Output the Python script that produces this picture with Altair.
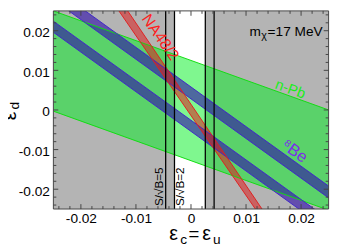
import altair as alt
import pandas as pd

# ---------------- values ----------------
X_DOMAIN = [-0.025, 0.025]
Y_DOMAIN = [-0.025, 0.025]
MAJOR = [-0.02, -0.01, 0.0, 0.01, 0.02]
MINOR = [-0.024, -0.022, -0.018, -0.016, -0.014, -0.012, -0.008, -0.006, -0.004, -0.002,
         0.002, 0.004, 0.006, 0.008, 0.012, 0.014, 0.016, 0.018, 0.022, 0.024]

# excluded (gray) x-regions, outside the S/sqrt(B)=2 lines
GRAY_X0 = [-0.025, 0.0026]
GRAY_X1 = [-0.0030, 0.025]

# vertical S/sqrt(B) lines
SB_LINES = [-0.0046, -0.0030, 0.0026, 0.0042]

# n-Pb band (edges at x = -0.025 and 0.025)
NPB_X = [-0.025, 0.025]
NPB_LO = [-0.0003, -0.0253]
NPB_HI = [0.0250, 0.0000]

# 8Be bands
BE_X = [-0.025, 0.025]
BE1_LO = [0.0196, -0.0304]
BE1_HI = [0.0224, -0.0276]
BE2_LO = [0.0278, -0.0222]
BE2_HI = [0.0308, -0.0192]

# NA48/2 band (edges at y = 0.025 and -0.025)
NA_Y = [0.025, -0.025]
NA_L = [-0.0131, 0.0117]
NA_R = [-0.0115, 0.0129]

# ---------------- styling ----------------
W, H = 282, 203
FONT = "Liberation Sans"
GRAY = "#b4b4b4"
GREEN = "#00f020"
GREEN_EDGE = "#10dd10"
BE_FILL = "#2d0aaa"
BE_EDGE = "#4028c8"
RED_FILL = "#dc1e1e"
RED_EDGE = "#e02020"
FRAME = "#444444"

xs = alt.Scale(domain=X_DOMAIN, nice=False, zero=False)
ys = alt.Scale(domain=Y_DOMAIN, nice=False, zero=False)
LABEL_EXPR = "datum.value == 0 ? '0' : (datum.value < 0 ? '-' : '') + format(abs(datum.value), '.2f')"
ax = alt.Axis(values=MAJOR, labelExpr=LABEL_EXPR, ticks=False, tickSize=0, domain=False, grid=False,
              labelFont=FONT, labelFontSize=14, labelColor="black", labelPadding=3)
ay = alt.Axis(values=MAJOR, labelExpr=LABEL_EXPR, ticks=False, tickSize=0, domain=False, grid=False,
              labelFont=FONT, labelFontSize=14, labelColor="black", labelPadding=4, labelOffset=2)

X = lambda f: alt.X(f, scale=xs, axis=ax, title=None)
Y = lambda f: alt.Y(f, scale=ys, axis=ay, title=None)

# gray excluded regions
gray = alt.Chart(pd.DataFrame({"x0": GRAY_X0, "x1": GRAY_X1})).mark_rect(color=GRAY).encode(
    x=X("x0:Q"), x2="x1:Q", y=alt.value(0), y2=alt.value(H))

# n-Pb
npb_df = pd.DataFrame({"x": NPB_X, "lo": NPB_LO, "hi": NPB_HI})
green = alt.Chart(npb_df).mark_area(color=GREEN, opacity=0.5, clip=True).encode(
    x=X("x:Q"), y=Y("lo:Q"), y2="hi:Q")

# 8Be
be_df = pd.DataFrame({
    "x": BE_X + BE_X,
    "lo": BE1_LO + BE2_LO,
    "hi": BE1_HI + BE2_HI,
    "band": ["a", "a", "b", "b"],
})
be = alt.Chart(be_df).mark_area(color=BE_FILL, opacity=0.6, clip=True).encode(
    x=X("x:Q"), y=Y("lo:Q"), y2="hi:Q", detail="band:N")

# NA48/2
na_df = pd.DataFrame({"y": NA_Y, "l": NA_L, "r": NA_R})
red = alt.Chart(na_df).mark_area(color=RED_FILL, opacity=0.55, orient="horizontal", clip=True).encode(
    y=Y("y:Q"), x=X("l:Q"), x2="r:Q")


def edges(xv, ylists, prefix):
    rows = []
    for i, yl in enumerate(ylists):
        for xx, yy in zip(xv, yl):
            rows.append({"g": f"{prefix}{i}", "x": xx, "y": yy})
    return pd.DataFrame(rows)


green_edge = alt.Chart(edges(NPB_X, [NPB_LO, NPB_HI], "n")).mark_line(
    color=GREEN_EDGE, strokeWidth=1, clip=True).encode(x=X("x:Q"), y=Y("y:Q"), detail="g:N")
be_edge = alt.Chart(edges(BE_X, [BE1_LO, BE1_HI, BE2_LO, BE2_HI], "b")).mark_line(
    color=BE_EDGE, strokeWidth=1, clip=True).encode(x=X("x:Q"), y=Y("y:Q"), detail="g:N")
na_rows = []
for i, xl in enumerate([NA_L, NA_R]):
    for xx, yy in zip(xl, NA_Y):
        na_rows.append({"g": f"r{i}", "x": xx, "y": yy})
red_edge = alt.Chart(pd.DataFrame(na_rows)).mark_line(
    color=RED_EDGE, strokeWidth=1, clip=True).encode(x=X("x:Q"), y=Y("y:Q"), detail="g:N")

vlines = alt.Chart(pd.DataFrame({"v": SB_LINES})).mark_rule(color="black", strokeWidth=1.3).encode(
    x=X("v:Q"))

# inward ticks on all four sides
maj_df = pd.DataFrame({"v": MAJOR})
min_df = pd.DataFrame({"v": MINOR})
tick_layers = []
for df, ln in [(maj_df, 5), (min_df, 3)]:
    tick_layers.append(alt.Chart(df).mark_rule(color=FRAME, strokeWidth=1).encode(
        x=X("v:Q"), y=alt.value(H), y2=alt.value(H - ln)))
    tick_layers.append(alt.Chart(df).mark_rule(color=FRAME, strokeWidth=1).encode(
        x=X("v:Q"), y=alt.value(0), y2=alt.value(ln)))
    tick_layers.append(alt.Chart(df).mark_rule(color=FRAME, strokeWidth=1).encode(
        y=Y("v:Q"), x=alt.value(0), x2=alt.value(ln)))
    tick_layers.append(alt.Chart(df).mark_rule(color=FRAME, strokeWidth=1).encode(
        y=Y("v:Q"), x=alt.value(W), x2=alt.value(W - ln)))

one = pd.DataFrame({"k": [0]})
frame = [
    alt.Chart(one).mark_rule(color=FRAME, strokeWidth=1).encode(x=alt.value(0), y=alt.value(0), y2=alt.value(H)),
    alt.Chart(one).mark_rule(color=FRAME, strokeWidth=1).encode(x=alt.value(W), y=alt.value(0), y2=alt.value(H)),
    alt.Chart(one).mark_rule(color=FRAME, strokeWidth=1).encode(y=alt.value(0), x=alt.value(0), x2=alt.value(W)),
    alt.Chart(one).mark_rule(color=FRAME, strokeWidth=1).encode(y=alt.value(H), x=alt.value(0), x2=alt.value(W)),
]


def txt(s, x, y, size, color="black", angle=0, align="left", baseline="alphabetic"):
    return alt.Chart(pd.DataFrame({"t": [s]})).mark_text(
        font=FONT, fontSize=size, color=color, angle=angle, align=align, baseline=baseline
    ).encode(text="t:N", x=alt.value(x), y=alt.value(y))


texts = [
    txt("NA48/2", 109.5, 27, 16, color="#ff2020", angle=55, align="center", baseline="middle"),
    txt("n-Pb", 243, 80, 15, color="#18ee18", angle=20, align="center", baseline="middle"),
    txt("\u2078Be", 247, 144, 17, color="#7a30e8", angle=36, align="center", baseline="middle"),
    txt("S/\u221aB=5", 108, 200, 12, angle=270, align="left", baseline="middle"),
    txt("S/\u221aB=2", 129.5, 200, 12, angle=270, align="left", baseline="middle"),
    txt("m", 201, 25.5, 14),
    txt("\u03c7", 213, 28.5, 11),
    txt("=17 MeV", 219.5, 25.5, 14),
    # x title  eps_c = eps_u
    txt("\u03b5", 118.8, H + 32, 20),
    txt("c", 130, H + 35.5, 14),
    txt("=", 138.5, H + 32, 19),
    txt("\u03b5", 152.5, H + 32, 20),
    txt("u", 163.5, H + 35.5, 14),
    # y title eps_d
    txt("\u03b5", -38.5, 112, 20, angle=270),
    txt("d", -35, 101, 14, angle=270),
]

chart = alt.layer(
    gray, green, be, red, green_edge, be_edge, red_edge, vlines, *tick_layers, *frame, *texts
).properties(
    width=W, height=H,
    padding={"left": 46.5, "top": 0, "right": 4.5, "bottom": 38},
    autosize=alt.AutoSizeParams(type="none"),
    background="white",
).configure_view(strokeWidth=0)

chart.save("out.html", embed_options={"renderer": "svg", "actions": False})
